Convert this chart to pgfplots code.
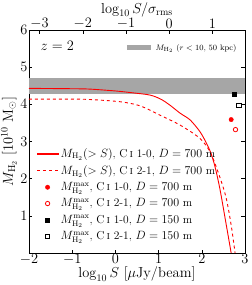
\documentclass[border=0pt]{standalone}
\usepackage{pgfplots}
\pgfplotsset{compat=1.18}
\begin{document}
\begin{tikzpicture}
\pgfplotsset{every axis/.append style={scale only axis, width=216pt, height=223pt, tick align=inside, major tick length=3.5pt, tick style={black, line width=0.4pt}, label style={font=\fontsize{14.5}{16}\selectfont}, tick label style={font=\fontsize{13.5}{15}\selectfont}}}
\begin{axis}[
  xmin=-2, xmax=3, ymin=0, ymax=6,
  xtick={-2,-1,0,1,2,3}, ytick={1,2,3,4,5,6},
  xtick pos=bottom, ytick pos=both,
  xlabel={$\log_{10} S$ [$\mu$Jy/beam]},
  ylabel={$M_{\rm H_2}$ [$10^{10}$ M$_\odot$]},
  xlabel style={yshift=5pt}, ylabel style={yshift=-3pt},
  xticklabel style={yshift=2pt}, yticklabel style={xshift=2pt},
  legend style={at={(0.02,0.035)}, anchor=south west, draw=none, fill=none, font=\fontsize{11.5}{13}\selectfont, row sep=2.6pt, cells={anchor=west}},
  legend image code/.code={\draw[mark repeat=2,mark phase=2,#1] plot coordinates {(0cm,0cm) (0.37cm,0cm) (0.74cm,0cm)};},
  clip=false,
]
\addplot[fill=gray!70, draw=none, forget plot] coordinates {(-2,4.29) (3,4.29) (3,4.70) (-2,4.70)} -- cycle;
\addlegendimage{legend image code/.code={\fill[red] (0cm,-0.55pt) rectangle (0.74cm,0.55pt);}}
\addlegendentry{$M_{\rm H_2}(>S)$, C\,\textsc{i} 1-0, $D=700$ m}
\addlegendimage{legend image code/.code={\draw[red, line width=1.1pt, dashed] (0cm,0cm) -- (0.74cm,0cm);}}
\addlegendentry{$M_{\rm H_2}(>S)$, C\,\textsc{i} 2-1, $D=700$ m}
\addplot[red, line width=0.9pt, smooth, forget plot] coordinates {(-2,4.43) (-1,4.42) (-0.59,4.41) (0,4.36) (0.4,4.31) (0.8,4.25) (1.05,4.14) (1.26,3.98) (1.5,3.76) (1.73,3.58) (1.96,3.26) (2.11,2.95) (2.2,2.72) (2.3,2.35) (2.42,1.72) (2.56,0.8) (2.68,0)};
\addplot[red, line width=0.9pt, dashed, smooth, forget plot] coordinates {(-2,4.14) (-1,4.14) (-0.59,4.13) (0.11,4.07) (0.57,3.96) (1.03,3.71) (1.5,3.44) (1.96,3.08) (2.2,2.70) (2.4,2.1) (2.56,1.5) (2.68,0.75) (2.77,0)};
\addplot[only marks, mark=*, mark size=2.2pt, red, mark options={fill=red}] coordinates {(2.68,3.59)};
\addlegendentry{$M_{\rm H_2}^{\rm max}$, C\,\textsc{i} 1-0, $D=700$ m}
\addplot[only marks, mark=o, mark size=2.2pt, red, mark options={line width=0.8pt}] coordinates {(2.78,3.32)};
\addlegendentry{$M_{\rm H_2}^{\rm max}$, C\,\textsc{i} 2-1, $D=700$ m}
\addplot[only marks, mark=square*, mark size=2.1pt, black] coordinates {(2.75,4.27)};
\addlegendentry{$M_{\rm H_2}^{\rm max}$, C\,\textsc{i} 1-0, $D=150$ m}
\addplot[only marks, mark=square, mark size=2.1pt, black, mark options={line width=0.8pt}] coordinates {(2.86,3.98)};
\addlegendentry{$M_{\rm H_2}^{\rm max}$, C\,\textsc{i} 2-1, $D=150$ m}
\node[anchor=west, font=\fontsize{15}{17}\selectfont] at (axis cs:-1.81,5.56) {$z=2$};
\end{axis}
\begin{axis}[
  xmin=-3.245, xmax=1.755, ymin=0, ymax=6,
  axis x line*=top, axis y line=none,
  xtick={-3,-2,-1,0,1},
  xlabel={$\log_{10} S/\sigma_{\rm rms}$},
  xlabel style={yshift=-6pt}, xticklabel style={yshift=-2pt},
  legend style={at={(0.985,0.955)}, anchor=north east, draw=none, fill=none, font=\fontsize{8}{9}\selectfont},
  legend image code/.code={\draw[#1] (0cm,0cm) -- (0.85cm,0cm);},
]
\addplot[gray!70, line width=5pt] coordinates {(-10,-10) (-9,-10)};
\addlegendentry{$M_{\rm H_2}$ ($r<10$, 50 kpc)}
\end{axis}
\pgfresetboundingbox
\useasboundingbox ([shift={(-29pt,-32pt)}]current axis.south west) rectangle ++(252pt,285pt);
\end{tikzpicture}
\end{document}
